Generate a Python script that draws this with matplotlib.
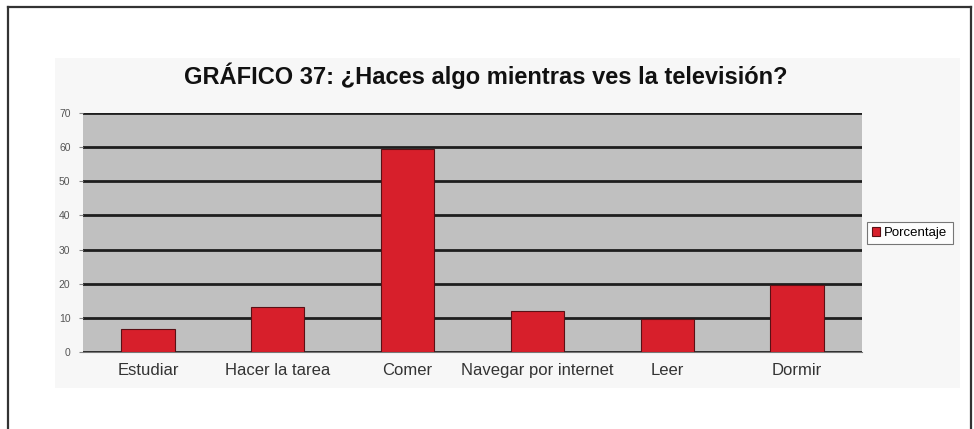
import matplotlib
matplotlib.use("Agg")
import matplotlib.pyplot as plt
from matplotlib.patches import Rectangle

categories = ["Estudiar", "Hacer la tarea", "Comer", "Navegar por internet", "Leer", "Dormir"]
porcentaje = [6.7, 13.2, 59.6, 11.9, 9.7, 19.7]
yticks = [0, 10, 20, 30, 40, 50, 60, 70]
title = "GRÁFICO 37: ¿Haces algo mientras ves la televisión?"

plt.rcParams["font.family"] = ["Liberation Sans", "DejaVu Sans"]

W, H = 974, 429
fig = plt.figure(figsize=(W / 100, H / 100), dpi=100)

# outer frame (open at the bottom) and the faint chart area
fig.add_artist(plt.Line2D([8 / W, 8 / W], [0, 1 - 7 / H], color="#333333", lw=1.6))
fig.add_artist(plt.Line2D([8 / W, 971 / W], [1 - 7 / H, 1 - 7 / H], color="#333333", lw=1.6))
fig.add_artist(plt.Line2D([971 / W, 971 / W], [0, 1 - 7 / H], color="#333333", lw=1.6))
fig.add_artist(Rectangle((55 / W, 1 - 388 / H), 905 / W, 330 / H,
                         transform=fig.transFigure, fc="#f7f7f7", ec="none", zorder=-5))

ax = fig.add_axes([83 / W, 1 - 352 / H, 779 / W, 239 / H])
ax.set_facecolor("#c0c0c0")
x = range(len(categories))
bars = ax.bar(x, porcentaje, width=0.41, color="#d71f2b", edgecolor="#5a1015",
              linewidth=0.8, zorder=3, label="Porcentaje")
ax.set_xlim(-0.5, len(categories) - 0.5)
ax.set_ylim(0, 70)
ax.set_yticks(yticks)
ax.set_yticklabels([str(t) for t in yticks], fontsize=7.5, color="#555555")
ax.set_xticks(list(x))
ax.set_xticklabels(categories, fontsize=12, color="#333333")
ax.tick_params(axis="x", length=0, pad=8)
ax.tick_params(axis="y", length=3, color="#888888", pad=6)
ax.grid(True, axis="y", color="#1e1e1e", linewidth=2.0, zorder=1)
ax.set_axisbelow(True)
for s in ["top", "right", "left"]:
    ax.spines[s].set_visible(False)
ax.spines["bottom"].set_color("#777777")

fig.text(486 / W, 1 - 76 / H, title, ha="center", va="center",
         fontsize=17, fontweight="bold", color="#111111")

leg = fig.legend(handles=[bars], labels=["Porcentaje"], loc="center left",
                 bbox_to_anchor=(867 / W, 1 - 233 / H), fontsize=9.5,
                 frameon=True, fancybox=False, edgecolor="#555555",
                 handlelength=0.6, handleheight=0.6, handletextpad=0.3,
                 borderpad=0.4, borderaxespad=0)
leg.get_frame().set_linewidth(0.8)

fig.savefig("out.png", dpi=100)
